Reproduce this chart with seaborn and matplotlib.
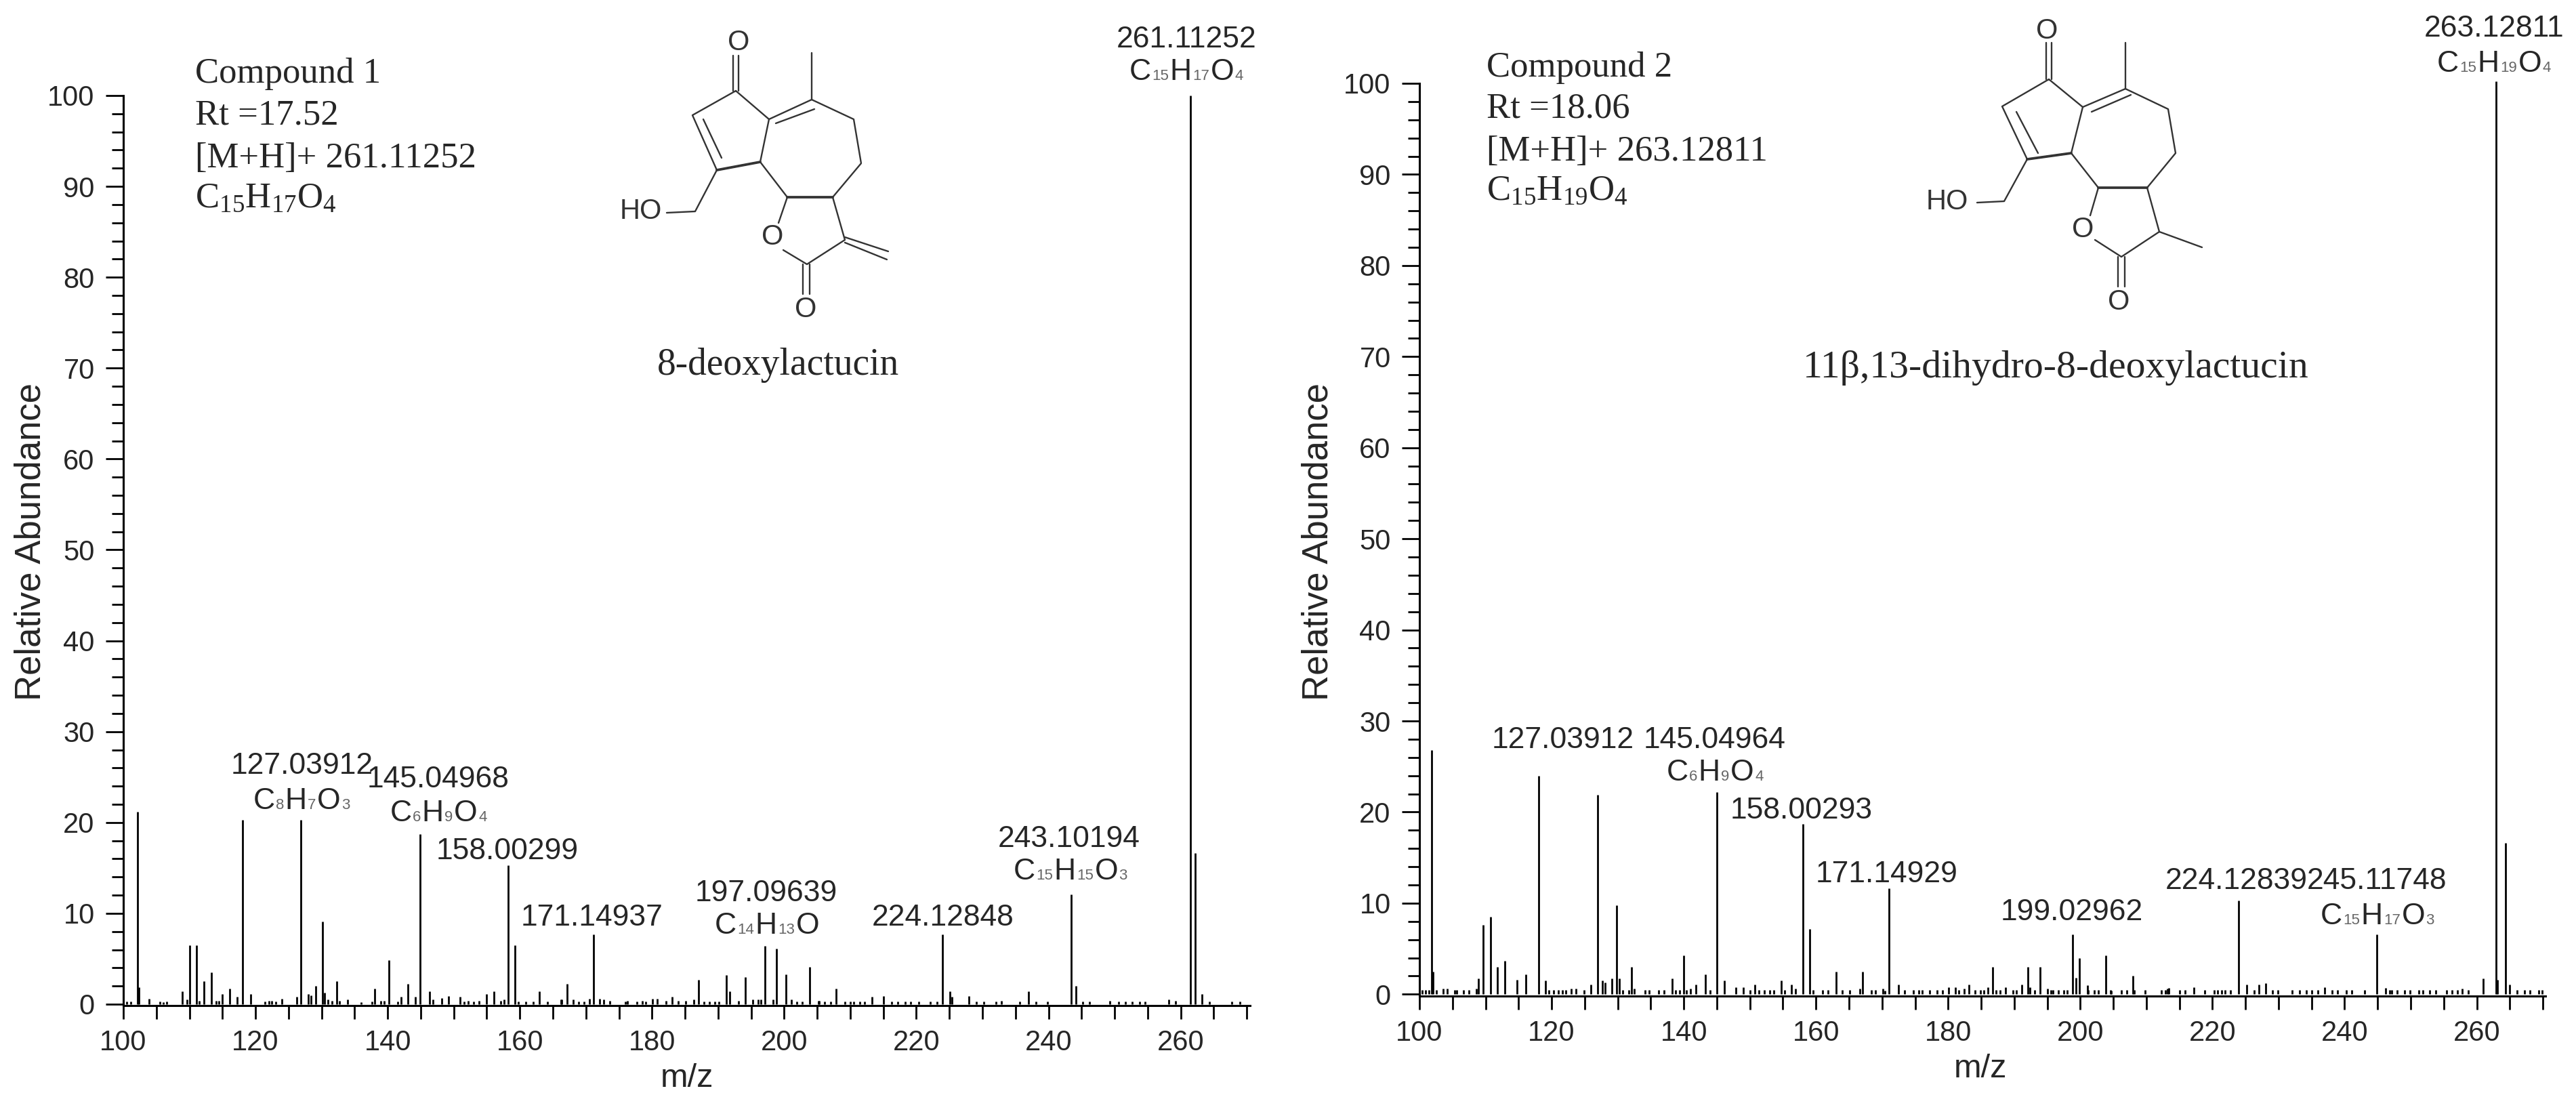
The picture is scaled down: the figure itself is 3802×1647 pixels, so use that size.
import pandas as pd
import matplotlib
matplotlib.use("Agg")
import matplotlib.pyplot as plt
from matplotlib.lines import Line2D
from matplotlib.offsetbox import AnnotationBbox, HPacker, TextArea
from matplotlib.ticker import MultipleLocator
import seaborn as sns

W, H = 3802, 1647

# compound 1 spectrum
mz1 = [102.13, 102.4, 103.9, 108.9, 110.0, 111.1, 112.2, 113.3, 115.0, 116.1, 117.2, 118.0, 119.3,
       124.0, 126.2, 126.9, 128.0, 128.4, 129.1, 130.1, 130.4, 132.3, 138.0, 140.2, 142.0, 143.1,
       144.2, 144.9, 146.3, 148.2, 149.2, 151.0, 155.0, 156.1, 158.2, 159.3, 162.9, 166.3, 167.2,
       170.5, 171.2, 172.1, 176.3, 180.1, 180.8, 183.0, 186.3, 187.0, 191.27, 191.77, 194.13, 195.25,
       197.05, 198.29, 198.85, 200.28, 201.08, 203.88, 205.3, 207.86, 213.26, 215.0, 224.0, 225.07,
       225.44, 227.98, 236.99, 243.45, 244.13, 249.23, 258.24, 259.23, 261.47, 262.15, 263.2]
rel1 = [21.2, 1.9, 0.6, 1.4, 6.45, 6.45, 2.5, 3.5, 1.1, 1.7, 0.8, 20.3, 1.1,
        0.6, 0.8, 20.3, 1.1, 1.0, 2.0, 9.1, 1.3, 2.5, 1.7, 4.85, 0.8, 2.2,
        0.8, 18.7, 1.4, 0.7, 0.9, 0.8, 1.1, 1.4, 15.3, 6.45, 1.4, 0.5, 2.2,
        0.6, 7.7, 0.6, 0.4, 0.6, 0.6, 0.8, 0.5, 2.7, 3.2, 1.4, 3.0, 0.5,
        6.4, 0.5, 6.1, 3.3, 0.5, 4.1, 0.4, 1.7, 0.8, 0.9, 7.7, 1.4,
        0.8, 0.9, 1.4, 12.1, 2.0, 0.4, 0.5, 0.4, 100.0, 16.6, 1.1]
noise_mz1 = [100.5, 101.1, 105.5, 106.0, 106.6, 109.6, 111.5, 114.0, 114.5, 121.4, 122.0, 122.5, 123.1,
             131.0, 131.6, 132.7, 133.9, 136.0, 137.6, 139.0, 139.5, 141.5, 146.9, 151.6, 152.2, 153.0,
             153.8, 157.1, 157.6, 159.8, 160.9, 162.0, 164.2, 166.2, 168.1, 168.9, 169.7, 172.7, 173.6,
             176.0, 177.7, 178.5, 179.0, 182.1, 184.0, 185.1, 187.9, 188.7, 189.5, 190.1, 193.1, 196.1,
             196.5, 201.9, 202.7, 205.2, 206.1, 207.0, 209.2, 210.0, 210.5, 211.4, 212.2, 216.3, 217.2,
             218.3, 219.1, 220.4, 222.1, 223.1, 229.1, 230.2, 232.1, 232.9, 235.6, 238.1, 239.8, 245.2,
             246.2, 250.6, 251.6, 252.7, 253.8, 254.6, 264.3, 267.7, 269.0]
noise_rel1 = [0.3, 0.3, 0.3, 0.25, 0.3, 0.5, 0.4, 0.4, 0.4, 0.3, 0.4, 0.4, 0.3,
              0.5, 0.4, 0.4, 0.5, 0.2, 0.3, 0.4, 0.4, 0.3, 0.5, 0.3, 0.4, 0.3,
              0.4, 0.4, 0.5, 0.3, 0.3, 0.3, 0.3, 0.5, 0.5, 0.3, 0.3, 0.5, 0.4,
              0.3, 0.3, 0.4, 0.3, 0.4, 0.4, 0.4, 0.3, 0.3, 0.3, 0.3, 0.4, 0.5,
              0.5, 0.3, 0.3, 0.4, 0.3, 0.3, 0.3, 0.3, 0.3, 0.3, 0.3, 0.3, 0.3,
              0.3, 0.3, 0.3, 0.3, 0.3, 0.3, 0.3, 0.3, 0.4, 0.3, 0.3, 0.3, 0.3,
              0.3, 0.3, 0.3, 0.3, 0.3, 0.3, 0.3, 0.3, 0.3]

# compound 2 spectrum
mz2 = [101.8, 102.0, 103.6, 108.9, 109.6, 110.8, 111.8, 112.9, 114.8, 116.1, 118.0, 119.1, 123.7,
       125.9, 127.0, 127.7, 128.1, 129.1, 129.8, 130.2, 132.1, 138.2, 140.0, 141.8, 143.3, 145.0,
       146.1, 147.9, 149.0, 150.8, 154.8, 156.3, 158.0, 159.1, 163.1, 166.6, 167.1, 170.4, 171.1,
       172.5, 180.1, 181.1, 183.1, 186.0, 186.7, 191.1, 192.1, 192.4, 193.9, 195.0, 198.84, 199.3,
       199.9, 201.2, 203.87, 204.7, 208.0, 213.2, 217.2, 223.99, 225.2, 227.0, 228.1, 237.0, 244.9,
       246.2, 257.8, 260.98, 262.9, 263.07, 264.3, 265.0]
rel2 = [26.8, 2.5, 0.6, 1.7, 7.6, 8.5, 3.0, 3.7, 1.6, 2.2, 24.0, 1.5, 0.6,
        1.1, 21.9, 1.5, 1.3, 1.7, 9.8, 1.7, 3.0, 1.7, 4.3, 1.1, 2.2, 22.2,
        1.5, 0.8, 0.8, 1.1, 1.5, 1.1, 18.7, 7.2, 2.5, 0.6, 2.5, 0.4, 11.6,
        1.1, 0.8, 0.8, 1.1, 0.8, 3.0, 1.1, 3.0, 0.8, 3.0, 0.6, 6.6, 1.8,
        4.0, 0.5, 4.3, 0.4, 2.0, 0.6, 0.8, 10.3, 1.1, 1.1, 1.2, 0.8, 6.6,
        0.7, 0.6, 1.7, 100.2, 1.6, 16.6, 1.1]
noise_mz2 = [100.36, 100.9, 101.46, 102.56, 104.2, 105.3, 105.69, 106.67, 107.5, 108.6, 119.57, 120.3, 121.05,
             121.6, 122.15, 123.0, 124.9, 130.8, 131.65, 132.47, 134.1, 134.8, 136.2, 137.0, 138.8, 139.33,
             140.4, 141.0, 144.0, 150.0, 151.4, 152.2, 153.0, 153.6, 155.25, 156.9, 159.6, 161.0, 161.8,
             164.0, 165.1, 168.4, 169.0, 170.1, 173.4, 174.7, 175.55, 176.1, 177.2, 178.3, 179.1, 181.6,
             182.4, 184.06, 184.9, 185.4, 187.3, 187.87, 188.7, 189.8, 190.34, 193.1, 195.6, 195.83, 196.65,
             197.48, 198.03, 201.05, 202.14, 202.69, 204.61, 206.26, 207.08, 208.18, 209.83, 212.3, 212.85, 213.4,
             215.04, 215.86, 218.88, 220.26, 220.8, 221.35, 221.9, 222.73, 226.29, 229.04, 229.86, 232.05, 233.15,
             234.25, 235.07, 235.9, 238.09, 238.92, 240.29, 241.11, 243.03, 246.8, 247.15, 247.97, 249.07, 249.9,
             251.26, 251.81, 252.91, 253.74, 255.38, 256.2, 257.03, 258.67, 266.08, 267.18, 268.0, 269.38, 269.93]
noise_rel2 = [0.5, 0.5, 0.5, 0.5, 0.6, 0.5, 0.5, 0.5, 0.5, 0.6, 0.5, 0.5, 0.5,
              0.5, 0.5, 0.6, 0.5, 0.5, 0.5, 0.6, 0.5, 0.5, 0.5, 0.5, 0.5, 0.5,
              0.5, 0.6, 0.5, 0.5, 0.5, 0.5, 0.5, 0.5, 0.5, 0.6, 0.5, 0.5, 0.5,
              0.5, 0.5, 0.5, 0.5, 0.6, 0.5, 0.5, 0.5, 0.5, 0.5, 0.5, 0.5, 0.5,
              0.6, 0.5, 0.5, 0.5, 0.5, 0.5, 0.8, 0.5, 0.5, 0.5, 0.5, 0.5, 0.5,
              0.5, 0.5, 1.0, 0.5, 0.5, 0.5, 0.5, 0.5, 0.5, 0.5, 0.5, 0.5, 0.7,
              0.5, 0.5, 0.5, 0.5, 0.5, 0.5, 0.5, 0.5, 0.5, 0.5, 0.5, 0.5, 0.5,
              0.5, 0.5, 0.5, 0.5, 0.5, 0.5, 0.5, 0.5, 0.5, 0.5, 0.5, 0.5, 0.5,
              0.5, 0.5, 0.5, 0.5, 0.5, 0.5, 0.5, 0.5, 0.5, 0.5, 0.5, 0.5, 0.5]

x_major = [100, 120, 140, 160, 180, 200, 220, 240, 260]
y_major = [0, 10, 20, 30, 40, 50, 60, 70, 80, 90, 100]

# peak annotations, pixel centres from the reference
labels1 = [("261.11252", 1751, 58), ("127.03912", 446, 1130), ("145.04968", 647, 1151),
           ("158.00299", 749, 1256), ("171.14937", 874, 1354), ("197.09639", 1131, 1319),
           ("224.12848", 1392, 1354), ("243.10194", 1578, 1239)]
formulas1 = [(["C", "15", "H", "17", "O", "4"], 1751, 107), (["C", "8", "H", "7", "O", "3"], 445, 1182),
             (["C", "6", "H", "9", "O", "4"], 647, 1201), (["C", "14", "H", "13", "O", ""], 1132, 1367),
             (["C", "15", "H", "15", "O", "3"], 1580, 1287)]
labels2 = [("263.12811", 3681, 42), ("127.03912", 2307, 1092), ("145.04964", 2531, 1092),
           ("158.00293", 2659, 1197), ("171.14929", 2785, 1291), ("199.02962", 3058, 1347),
           ("224.12839", 3301, 1300), ("245.11748", 3508, 1300)]
formulas2 = [(["C", "15", "H", "19", "O", "4"], 3681, 94), (["C", "6", "H", "9", "O", "4"], 2531, 1141),
             (["C", "15", "H", "17", "O", "3"], 3509, 1353)]

info1 = ["Compound 1", "Rt =17.52", "[M+H]+ 261.11252", "C$_{15}$H$_{17}$O$_{4}$"]
info2 = ["Compound 2", "Rt =18.06", "[M+H]+ 263.12811", "C$_{15}$H$_{19}$O$_{4}$"]
name1 = "8-deoxylactucin"
name2 = "11β,13-dihydro-8-deoxylactucin"

# structure drawings, pixel coordinates
bonds1 = [[(1086, 134), (1022, 170), (1058, 251), (1122, 239), (1135, 176), (1086, 134)],
          [(1038, 176), (1065, 233)], [(1135, 176), (1198, 147)], [(1145, 182), (1202, 161)],
          [(1198, 147), (1198, 78)], [(1198, 147), (1260, 176), (1271, 241), (1229, 291)],
          [(1162, 291), (1122, 239)], [(1229, 291), (1247, 354), (1191, 390), (1156, 369)],
          [(1162, 291), (1149, 329)], [(1247, 350), (1311, 371)], [(1247, 358), (1309, 383)],
          [(1082, 82), (1082, 134)], [(1090, 82), (1090, 134)], [(1185, 390), (1185, 434)],
          [(1195, 390), (1195, 434)], [(1058, 251), (1026, 312), (984, 314)]]
wedges1 = [[(1162, 291), (1229, 291)], [(1058, 251), (1122, 239)]]
atoms1 = [("O", 1090, 63), ("O", 1140, 350), ("O", 1189, 457), ("HO", 946, 312)]

bonds2 = [[(3024, 117), (2955, 157), (2992, 235), (3057, 226), (3074, 158), (3024, 117)],
          [(2976, 165), (3008, 226)], [(3074, 158), (3137, 131)], [(3087, 165), (3145, 140)],
          [(3137, 131), (3137, 63)], [(3137, 131), (3200, 161), (3211, 226), (3169, 277)],
          [(3097, 277), (3057, 226)], [(3169, 277), (3187, 342), (3131, 379), (3092, 354)],
          [(3097, 277), (3085, 318)], [(3187, 342), (3250, 365)],
          [(3020, 63), (3020, 117)], [(3028, 63), (3028, 117)], [(3126, 379), (3126, 423)],
          [(3136, 379), (3136, 423)], [(2992, 235), (2958, 297), (2918, 299)]]
wedges2 = [[(3097, 277), (3169, 277)], [(2992, 235), (3057, 226)]]
atoms2 = [("O", 3021, 46), ("O", 3074, 339), ("O", 3127, 446), ("HO", 2874, 298)]

sns.set_theme(style="ticks")
plt.rcParams["font.family"] = ["Liberation Sans", "DejaVu Sans"]
plt.rcParams["mathtext.default"] = "regular"
plt.rcParams["axes.edgecolor"] = "black"

DARK = "#262626"
SERIF = ["Liberation Serif", "DejaVu Serif"]

fig = plt.figure(figsize=(W / 100, H / 100), dpi=100, facecolor="white")


def put(x, y, s, **kw):
    kw.setdefault("color", DARK)
    kw.setdefault("ha", "center")
    kw.setdefault("va", "center")
    return fig.text(x / W, 1 - y / H, s, **kw)


def stems(mz, rel, noise_mz, noise_rel):
    all_mz = list(mz) + list(noise_mz)
    all_rel = list(rel) + list(noise_rel)
    rows = []
    for i, (m, r) in enumerate(zip(all_mz, all_rel)):
        rows.append({"peak": i, "mz": m, "rel": 0})
        rows.append({"peak": i, "mz": m, "rel": r})
    return pd.DataFrame(rows)


def spectrum(rect, xmax, ymin, mz, rel, noise_mz, noise_rel):
    left, right, top, bottom = rect
    ax = fig.add_axes([left / W, 1 - bottom / H, (right - left) / W, (bottom - top) / H])
    ax.patch.set_alpha(0)
    sns.lineplot(data=stems(mz, rel, noise_mz, noise_rel), x="mz", y="rel", units="peak", estimator=None,
                 color="black", lw=2.0, ax=ax, clip_on=False, solid_capstyle="butt")
    ax.set_xlim(100, xmax)
    ax.set_ylim(ymin, 100)
    ax.set_xticks(x_major)
    ax.set_yticks(y_major)
    ax.xaxis.set_minor_locator(MultipleLocator(5))
    ax.yaxis.set_minor_locator(MultipleLocator(2))
    ax.tick_params(axis="x", which="both", length=14.4, width=2.0, color="black")
    ax.tick_params(axis="x", which="major", labelsize=30, labelcolor=DARK, pad=11)
    ax.tick_params(axis="y", which="major", length=18.5, width=2.0, color="black", labelsize=30,
                   labelcolor=DARK, pad=12)
    ax.tick_params(axis="y", which="minor", length=12.5, width=2.0, color="black")
    ax.set_xlabel("")
    ax.set_ylabel("")
    sns.despine(ax=ax)
    for side in ["left", "bottom"]:
        ax.spines[side].set_linewidth(2.2)
    return ax


def formula(parts, x, y):
    boxes = []
    for i, p in enumerate(parts):
        if not p:
            continue
        if i % 2 == 0:
            boxes.append(TextArea(p, textprops=dict(size=32, color=DARK)))
        else:
            boxes.append(TextArea(p, textprops=dict(size=16, color="#666666")))
    pack = HPacker(children=boxes, align="baseline", pad=0, sep=1)
    fig.add_artist(AnnotationBbox(pack, (x, H - y), xycoords="figure pixels", frameon=False,
                                  box_alignment=(0.5, 0.5), pad=0))


def structure(bonds, wedges, atoms):
    for seg, lw in [(bonds, 1.7), (wedges, 2.7)]:
        for pts in seg:
            fig.add_artist(Line2D([p[0] / W for p in pts], [1 - p[1] / H for p in pts], color="#333333",
                                  lw=lw, solid_capstyle="round", transform=fig.transFigure))
    for s, x, y in atoms:
        put(x, y, s, fontsize=30, color="#333333")


spectrum((182, 1845, 141, 1484), 270.5, -0.15, mz1, rel1, noise_mz1, noise_rel1)
spectrum((2095, 3757, 123, 1470), 270.4, -0.2, mz2, rel2, noise_mz2, noise_rel2)

for s, x, y in labels1 + labels2:
    put(x, y, s, fontsize=32)
for parts, x, y in formulas1 + formulas2:
    formula(parts, x, y)

put(46, 800, "Relative Abundance", fontsize=38, rotation=90)
put(1945, 800, "Relative Abundance", fontsize=38, rotation=90)
put(1014, 1592, "m/z", fontsize=35)
put(2923, 1578, "m/z", fontsize=35)

for s, y in zip(info1, [122, 184, 247, 306]):
    put(288, y, s, fontsize=38, family=SERIF, ha="left", va="baseline")
for s, y in zip(info2, [113, 173, 237, 295]):
    put(2194, y, s, fontsize=38, family=SERIF, ha="left", va="baseline")
put(1149, 553, name1, fontsize=40, family=SERIF, va="baseline")
put(3034, 557, name2, fontsize=41.5, family=SERIF, va="baseline")

structure(bonds1, wedges1, atoms1)
structure(bonds2, wedges2, atoms2)

fig.savefig("out.png", dpi=100, facecolor="white")
